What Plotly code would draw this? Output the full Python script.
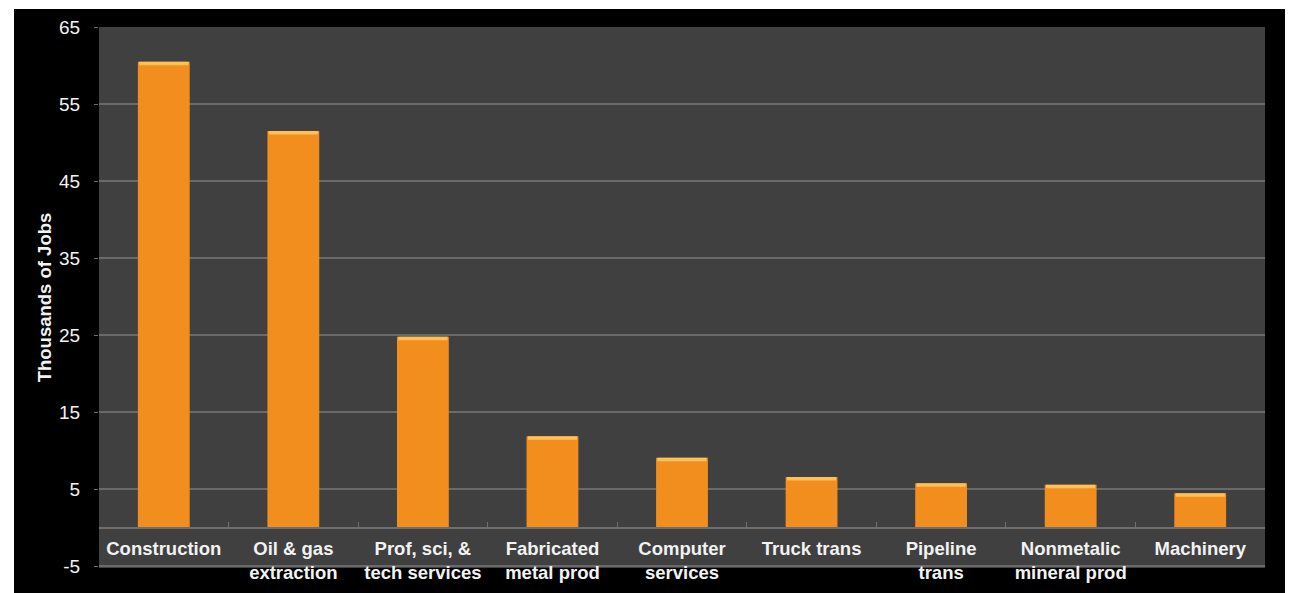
import plotly.graph_objects as go

# Job gains by industry (thousands of jobs)
categories = [
    "Construction",
    "Oil & gas<br>extraction",
    "Prof, sci, &<br>tech services",
    "Fabricated<br>metal prod",
    "Computer<br>services",
    "Truck trans",
    "Pipeline<br>trans",
    "Nonmetalic<br>mineral prod",
    "Machinery",
]
jobs = [60.5, 51.5, 24.8, 11.9, 9.1, 6.6, 5.8, 5.6, 4.5]
y_ticks = [-5, 5, 15, 25, 35, 45, 55, 65]

W, H = 1289, 593
L, R, T, B = 99, 24, 27, 25
pw, ph = W - L - R, H - T - B
Y_MIN, Y_MAX = -5.2, 65


def px_x(px):
    return (px - L) / pw


def px_y(py):
    return (H - B - py) / ph


highlight = 0.45  # thickness of the bright cap on each bar, in data units

fig = go.Figure()
fig.add_trace(go.Bar(
    x=categories, y=jobs,
    marker=dict(color="#F18E1E", line=dict(width=0)),
    width=0.4, hoverinfo="x+y",
))
fig.add_trace(go.Bar(
    x=categories, y=[highlight] * len(jobs),
    base=[v - highlight for v in jobs],
    marker=dict(color="#FCC15A", line=dict(width=0)),
    width=0.38, hoverinfo="skip",
))

# White page edges around the black frame
white = dict(type="rect", xref="paper", yref="paper", layer="below",
             fillcolor="#FFFFFF", line=dict(width=0))
shapes = [
    dict(white, x0=px_x(-5), x1=px_x(W + 5), y0=px_y(9), y1=px_y(-5)),
    dict(white, x0=px_x(-5), x1=px_x(14), y0=px_y(H + 5), y1=px_y(-5)),
    dict(white, x0=px_x(1285), x1=px_x(W + 5), y0=px_y(H + 5), y1=px_y(-5)),
]

fig.update_layout(
    width=W, height=H,
    margin=dict(l=L, r=R, t=T, b=B, autoexpand=False),
    paper_bgcolor="#000000",
    plot_bgcolor="#404040",
    barmode="overlay",
    showlegend=False,
    shapes=shapes,
    font=dict(family="Liberation Sans, Arial, sans-serif", color="#F2F2F2"),
    xaxis=dict(
        type="category",
        anchor="free",
        position=(0 - Y_MIN) / (Y_MAX - Y_MIN),
        showgrid=False,
        showline=True, linecolor="#6E6E6E", linewidth=1.5,
        ticks="inside", ticklen=5, tickcolor="#6E6E6E", tickson="boundaries",
        tickvals=categories,
        ticktext=["<b>%s</b>" % c.replace("<br>", "</b><br><b>") for c in categories],
        tickfont=dict(size=18.5, color="#F2F2F2", family="Liberation Sans, Arial, sans-serif"),
        ticklabelstandoff=4,
        automargin=False,
        fixedrange=True,
    ),
    yaxis=dict(
        range=[Y_MIN, Y_MAX],
        tickvals=y_ticks,
        ticktext=[str(v) for v in y_ticks],
        showgrid=True, gridcolor="#6A6A6A", gridwidth=1.5,
        zeroline=False,
        showline=False,
        ticks="outside", ticklen=4, tickcolor="#6A6A6A",
        tickfont=dict(size=19, color="#F2F2F2"),
        ticklabelstandoff=10,
        title=dict(text="<b>Thousands of Jobs</b>",
                   font=dict(size=18.5, color="#F2F2F2"), standoff=2),
        automargin=False,
        fixedrange=True,
    ),
)

fig.write_html("out.html")
